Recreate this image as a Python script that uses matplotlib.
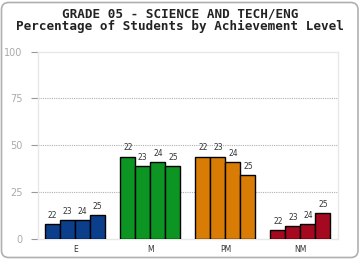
import matplotlib
matplotlib.use("Agg")
import matplotlib.pyplot as plt
from matplotlib.patches import FancyBboxPatch
import numpy as np

categories = ["E", "M", "PM", "NM"]
years = ["22", "23", "24", "25"]
values_E = [8, 10, 10, 13]
values_M = [44, 39, 41, 39]
values_PM = [44, 44, 41, 34]
values_NM = [5, 7, 8, 14]
yticks = [0, 25, 50, 75, 100]
title_line1 = "GRADE 05 - SCIENCE AND TECH/ENG"
title_line2 = "Percentage of Students by Achievement Level"

colors = ["#0b3f8c", "#0c9523", "#d97c06", "#a5091f"]
series = [values_E, values_M, values_PM, values_NM]

fig = plt.figure(figsize=(3.6, 2.6), dpi=100)
fig.patch.set_facecolor("white")

border = FancyBboxPatch((1.5/360, 2.5/260), 356.5/360, 255/260,
                        boxstyle="round,pad=0,rounding_size=0.02",
                        transform=fig.transFigure, facecolor="none",
                        edgecolor="#b0b0b0", linewidth=1.2, mutation_aspect=360/260)
fig.patches.append(border)

ax = fig.add_axes([37.7/360, 21/260, (338-37.7)/360, (239-51.6)/260])
ax.set_xlim(-0.5, 3.5)
ax.set_ylim(0, 100)

w = 0.2
for ci, (vals, col) in enumerate(zip(series, colors)):
    for j, v in enumerate(vals):
        x = ci + (j - 1.5) * w
        ax.bar(x, v, width=w, color=col, edgecolor="black", linewidth=1.0, zorder=3)
        ax.text(x, v + 2.2, years[j], ha="center", va="bottom", fontsize=5.5,
                color="#333333", zorder=4)

for y in [25, 50, 75]:
    ax.axhline(y, color="#b0b0b0", linestyle=(0, (1, 1)), linewidth=0.8, zorder=1)

for s in ax.spines.values():
    s.set_color("#e8e8e8")
    s.set_linewidth(1.0)

ax.set_yticks(yticks)
ax.set_yticklabels([str(t) for t in yticks], fontsize=7, color="#aaaaaa")
ax.tick_params(axis="y", length=5, color="#999999", width=0.8, pad=6)
ax.set_xticks(range(len(categories)))
ax.set_xticklabels(categories, fontsize=5.5, color="#333333")
ax.tick_params(axis="x", length=0, pad=4)

fig.text(0.5, 1 - 14/260, title_line1, ha="center", va="center",
         family="DejaVu Sans Mono", fontweight="bold", fontsize=9.1, color="#222222")
fig.text(0.5, 1 - 26/260, title_line2, ha="center", va="center",
         family="DejaVu Sans Mono", fontweight="bold", fontsize=9.1, color="#222222")

fig.savefig("out.png", dpi=100)
